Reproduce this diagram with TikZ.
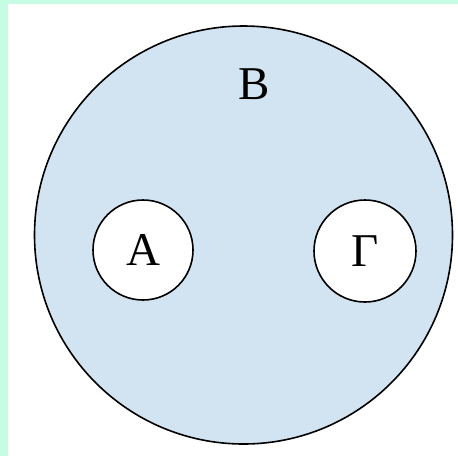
\documentclass[tikz,border=0pt]{standalone}
\usepackage{fontspec}
\setmainfont{Liberation Serif}
\definecolor{mint}{HTML}{C6FCE4}
\definecolor{setblue}{HTML}{D2E4F1}

\begin{document}
\begin{tikzpicture}[
  x=1pt, y=-1pt,
  set/.style={circle, draw, line width=1.6pt, inner sep=0pt},
  every node/.style={font=\fontsize{47}{47}\selectfont}
]
  \fill[mint] (0,0) rectangle (458,456);
  \fill[white] (8,4) rectangle (458,456);
  \useasboundingbox (0,0) rectangle (458,456);

  \node[set, fill=setblue, minimum size=418pt] (B) at (243.5,235) {};
  \node (lB) at (254,84) {Β};
  \node[set, fill=white, minimum size=100pt] (A) at (143,250) {Α};
  \node[set, fill=white, minimum size=102pt] (G) at (365,251) {Γ};
\end{tikzpicture}
\end{document}
